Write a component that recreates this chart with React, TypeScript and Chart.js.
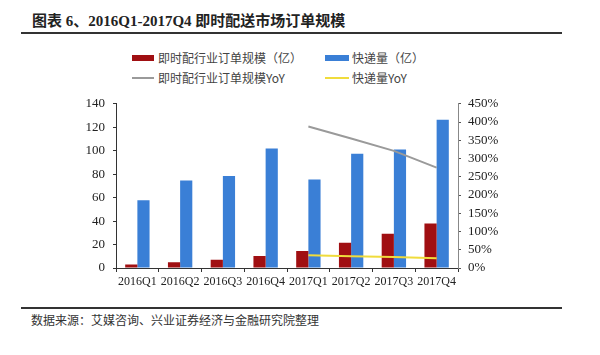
import React, { useEffect, useRef } from "react";
import { Chart, registerables } from "chart.js";

Chart.register(...registerables);

const categories = ["2016Q1", "2016Q2", "2016Q3", "2016Q4", "2017Q1", "2017Q2", "2017Q3", "2017Q4"];
const instantOrders = [3, 5, 7, 10.2, 14.5, 21.5, 29.3, 38];
const expressVolume = [57.8, 74.5, 78.5, 101.8, 75.5, 97.5, 101, 126.5];
const instantYoY = [null, null, null, null, 388, 355, 321, 275];
const expressYoY = [null, null, null, null, 35, 32.5, 30, 27];
const leftTicksMax = 140;
const rightTicksMax = 450;

const seriesNames = ["即时配行业订单规模（亿）", "快递量（亿）", "即时配行业订单规模YoY", "快递量YoY"];
const titleText = "图表 6、2016Q1-2017Q4 即时配送市场订单规模";
const sourceText = "数据来源：艾媒咨询、兴业证券经济与金融研究院整理";

const RED = "#A00F12";
const BLUE = "#3A7FD6";
const GRAY = "#9A9A9A";
const YELLOW = "#F0DC3C";

export default function App() {
  const ref = useRef<HTMLCanvasElement | null>(null);

  useEffect(() => {
    if (!ref.current) return;
    const tickFont = { family: "'Liberation Serif', 'Times New Roman', serif", size: 13 };
    const chart = new Chart(ref.current, {
      type: "bar",
      data: {
        labels: categories,
        datasets: [
          {
            type: "line",
            label: seriesNames[2],
            data: instantYoY,
            yAxisID: "y1",
            borderColor: GRAY,
            backgroundColor: GRAY,
            borderWidth: 2,
            pointRadius: 0,
            tension: 0,
            order: 0,
          },
          {
            type: "line",
            label: seriesNames[3],
            data: expressYoY,
            yAxisID: "y1",
            borderColor: YELLOW,
            backgroundColor: YELLOW,
            borderWidth: 2,
            pointRadius: 0,
            tension: 0,
            order: 0,
          },
          {
            type: "bar",
            label: seriesNames[0],
            data: instantOrders,
            yAxisID: "y",
            backgroundColor: RED,
            categoryPercentage: 0.57,
            barPercentage: 1,
            order: 1,
          },
          {
            type: "bar",
            label: seriesNames[1],
            data: expressVolume,
            yAxisID: "y",
            backgroundColor: BLUE,
            categoryPercentage: 0.57,
            barPercentage: 1,
            order: 1,
          },
        ] as any,
      },
      options: {
        animation: false,
        responsive: true,
        maintainAspectRatio: false,
        layout: { padding: { top: 10, right: 0, bottom: 0, left: 0 } },
        plugins: {
          legend: { display: false },
          title: { display: false },
          tooltip: { enabled: false },
        },
        scales: {
          x: {
            grid: {
              display: true,
              drawOnChartArea: false,
              drawTicks: true,
              tickLength: 4,
              color: "#333",
              offset: true,
            },
            border: { display: true, color: "#333", width: 1 },
            ticks: {
              font: { ...tickFont, size: 12 },
              color: "#222",
              maxRotation: 0,
              minRotation: 0,
              autoSkip: false,
              padding: 3,
            },
            afterFit: (s: any) => {
              s.height = 32;
            },
          },
          y: {
            position: "left",
            min: 0,
            max: leftTicksMax,
            ticks: { stepSize: 20, autoSkip: false, font: tickFont, color: "#222", padding: 8 },
            grid: { display: true, drawOnChartArea: false, drawTicks: true, tickLength: 3, color: "#333" },
            border: { display: true, color: "#333", width: 1 },
            afterFit: (s: any) => {
              s.width = 116;
            },
          },
          y1: {
            position: "right",
            min: 0,
            max: rightTicksMax,
            ticks: {
              stepSize: 50,
              autoSkip: false,
              font: tickFont,
              color: "#222",
              padding: 7,
              callback: (v: any) => v + "%",
            },
            grid: { display: true, drawOnChartArea: false, drawTicks: true, tickLength: 3, color: "#555" },
            border: { display: true, color: "#888", width: 1 },
            afterFit: (s: any) => {
              s.width = 142;
            },
          },
        },
      },
    });
    return () => chart.destroy();
  }, []);

  const cjk = "'Noto Sans CJK SC', 'Noto Sans', sans-serif";
  const legendText: React.CSSProperties = {
    position: "absolute",
    fontFamily: cjk,
    fontSize: 12,
    color: "#444",
    lineHeight: "14px",
    whiteSpace: "nowrap",
  };

  return (
    <div style={{ position: "absolute", left: 0, top: 0, width: 600, height: 355, background: "#fff", overflow: "hidden" }}>
      <div
        style={{
          position: "absolute",
          left: 32,
          top: 12,
          fontFamily: "'Liberation Serif', 'Noto Sans CJK SC', serif",
          fontWeight: "bold",
          fontSize: 15,
          lineHeight: "18px",
          color: "#222",
          whiteSpace: "nowrap",
        }}
      >
        {titleText}
      </div>
      <div style={{ position: "absolute", left: 21, top: 32, width: 541, height: 2, background: "#333" }} />

      <div style={{ position: "absolute", left: 132, top: 55, width: 22, height: 6, background: RED }} />
      <div style={{ ...legendText, left: 158, top: 51 }}>{seriesNames[0]}</div>
      <div style={{ position: "absolute", left: 325, top: 55, width: 24, height: 6, background: BLUE }} />
      <div style={{ ...legendText, left: 352, top: 51 }}>{seriesNames[1]}</div>
      <div style={{ position: "absolute", left: 132, top: 77, width: 22, height: 2, background: GRAY }} />
      <div style={{ ...legendText, left: 158, top: 71 }}>{seriesNames[2]}</div>
      <div style={{ position: "absolute", left: 325, top: 77, width: 24, height: 2, background: YELLOW }} />
      <div style={{ ...legendText, left: 352, top: 71 }}>{seriesNames[3]}</div>

      <div style={{ position: "absolute", left: 0, top: 88, width: 600, height: 212 }}>
        <canvas ref={ref} />
      </div>

      <div style={{ position: "absolute", left: 21, top: 307, width: 541, height: 2, background: "#333" }} />
      <div
        style={{
          position: "absolute",
          left: 31,
          top: 313,
          fontFamily: cjk,
          fontSize: 12,
          lineHeight: "14px",
          color: "#333",
          whiteSpace: "nowrap",
        }}
      >
        {sourceText}
      </div>
    </div>
  );
}
